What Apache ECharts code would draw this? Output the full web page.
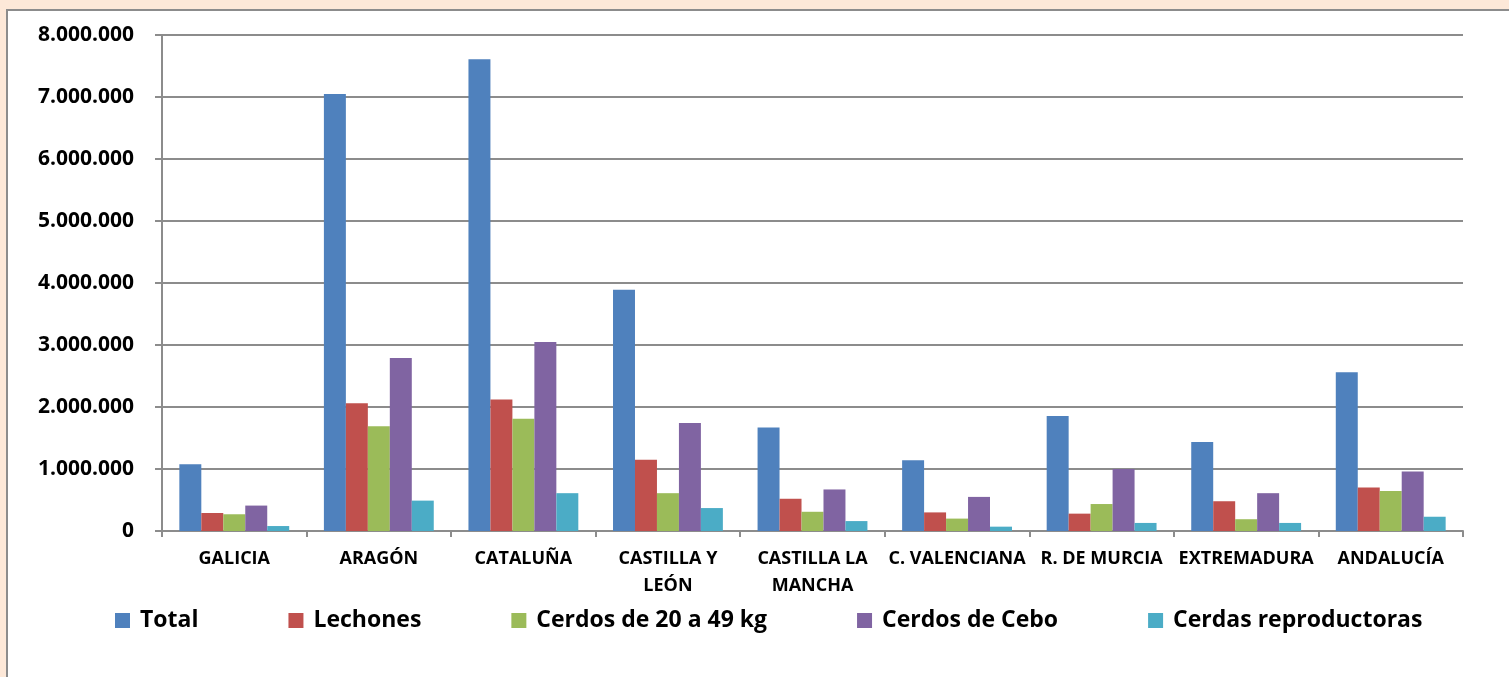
<!DOCTYPE html>
<html>
<head>
<meta charset="utf-8">
<script src="https://cdn.jsdelivr.net/npm/echarts@6/dist/echarts.min.js"></script>
<style>
  html, body { margin: 0; padding: 0; background: #fde8d8; }
  #chart { width: 1509px; height: 677px; }
</style>
</head>
<body>
<div id="chart"></div>
<script>
// comunidades
var regiones = ['GALICIA', 'ARAGÓN', 'CATALUÑA', 'CASTILLA Y\nLEÓN', 'CASTILLA LA\nMANCHA', 'C. VALENCIANA', 'R. DE MURCIA', 'EXTREMADURA', 'ANDALUCÍA'];
// cabezas por tipo
var total = [1076000, 7050000, 7610000, 3890000, 1670000, 1140000, 1855000, 1435000, 2560000];
var lechones = [290000, 2060000, 2120000, 1150000, 520000, 300000, 280000, 480000, 700000];
var cerdos2049 = [270000, 1690000, 1810000, 610000, 310000, 200000, 435000, 190000, 645000];
var cerdosCebo = [410000, 2790000, 3050000, 1740000, 670000, 550000, 1000000, 610000, 960000];
var cerdas = [80000, 490000, 610000, 370000, 160000, 70000, 130000, 130000, 230000];
var nombres = ['Total', 'Lechones', 'Cerdos de 20 a 49 kg', 'Cerdos de Cebo', 'Cerdas reproductoras'];
var colores = ['#4f81bd', '#c0504d', '#9bbb59', '#8064a2', '#4bacc6'];

(function () {
    var myChart = echarts.init(document.getElementById('chart'));
    var fuente = '"Open Sans", "Liberation Sans", sans-serif';
    var gris = '#8c8c8c';
    var datos = [total, lechones, cerdos2049, cerdosCebo, cerdas];

    function miles(v) {
        return String(v).replace(/\B(?=(\d{3})+(?!\d))/g, '.');
    }

    var series = datos.map(function (d, i) {
        return {
            name: nombres[i],
            type: 'bar',
            data: d,
            barGap: '0%',
            barCategoryGap: '24%',
            itemStyle: { color: colores[i] }
        };
    });

    var option = {
        animation: false,
        backgroundColor: '#fde8d8',
        color: colores,
        graphic: [{
            type: 'rect',
            z: -10,
            shape: { x: 7, y: 10, width: 1520, height: 700 },
            style: { fill: '#ffffff', stroke: gris, lineWidth: 2 }
        }],
        grid: {
            left: 162,
            right: 46,
            top: 35,
            bottom: 146
        },
        legend: {
            data: nombres,
            left: 110,
            top: 604,
            itemWidth: 15,
            itemHeight: 15,
            itemGap: 90,
            icon: 'rect',
            textStyle: {
                fontFamily: fuente,
                fontWeight: 'bold',
                fontSize: 23,
                color: '#000',
                padding: [0, 0, 0, 5]
            }
        },
        xAxis: {
            type: 'category',
            data: regiones,
            axisLine: { lineStyle: { color: gris, width: 2 } },
            axisTick: { show: true, length: 6, lineStyle: { color: gris, width: 2 } },
            axisLabel: {
                interval: 0,
                margin: 14,
                fontFamily: fuente,
                fontWeight: 'bold',
                fontSize: 18,
                lineHeight: 27,
                color: '#000'
            }
        },
        yAxis: {
            type: 'value',
            min: 0,
            max: 8000000,
            interval: 1000000,
            axisLine: { show: true, lineStyle: { color: gris, width: 2 } },
            axisTick: { show: true, length: 7, lineStyle: { color: gris, width: 2 } },
            splitLine: { lineStyle: { color: gris, width: 2 } },
            axisLabel: {
                margin: 28,
                fontFamily: fuente,
                fontWeight: 'bold',
                fontSize: 21,
                color: '#000',
                formatter: miles
            }
        },
        series: series
    };
    myChart.setOption(option);
})();
</script>
</body>
</html>
